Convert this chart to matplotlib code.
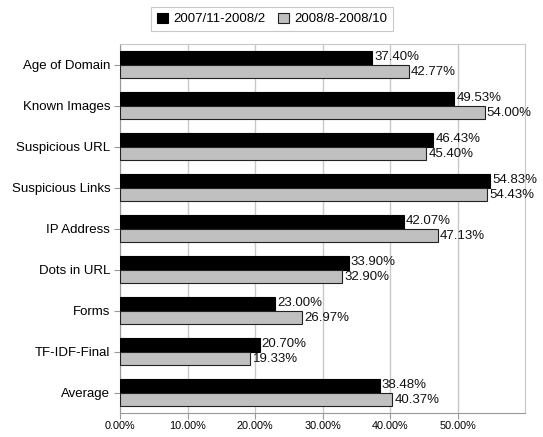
import matplotlib
matplotlib.use("Agg")
import matplotlib.pyplot as plt
import numpy as np

plt.rcParams['font.family'] = ['Liberation Sans', 'DejaVu Sans']

categories = ["Age of Domain", "Known Images", "Suspicious URL", "Suspicious Links",
              "IP Address", "Dots in URL", "Forms", "TF-IDF-Final", "Average"]
series_names = ["2007/11-2008/2", "2008/8-2008/10"]
period1 = [37.40, 49.53, 46.43, 54.83, 42.07, 33.90, 23.00, 20.70, 38.48]
period2 = [42.77, 54.00, 45.40, 54.43, 47.13, 32.90, 26.97, 19.33, 40.37]
x_ticks = [0, 10, 20, 30, 40, 50]
x_tick_labels = ["0.00%", "10.00%", "20.00%", "30.00%", "40.00%", "50.00%"]

fig = plt.figure(figsize=(5.43, 4.37), dpi=100)
ax = fig.add_axes([120/543, 24/437, 405/543, 369/437])

y = np.arange(len(categories))
h = 0.34
grid_c = "#c8c8c8"
axis_c = "#999999"

b1 = ax.barh(y - h/2, period1, height=h, color="black", edgecolor="black",
             linewidth=0.8, label=series_names[0], zorder=3)
b2 = ax.barh(y + h/2, period2, height=h, color="#c0c0c0", edgecolor="#222222",
             linewidth=0.8, label=series_names[1], zorder=3)

for yi, v in zip(y - h/2, period1):
    ax.text(v + 0.3, yi - 0.02, f"{v:.2f}%", va="center", ha="left",
            fontsize=9.5, color="#111111", zorder=4)
for yi, v in zip(y + h/2, period2):
    ax.text(v + 0.3, yi + 0.02, f"{v:.2f}%", va="center", ha="left",
            fontsize=9.5, color="#111111", zorder=4)

ax.set_xlim(0, 60)
ax.set_ylim(len(categories) - 0.5, -0.5)
ax.set_yticks(y)
ax.set_yticklabels(categories, fontsize=9.5)
ax.set_xticks(x_ticks)
ax.set_xticklabels(x_tick_labels, fontsize=7.8)
ax.xaxis.grid(True, color=grid_c, linewidth=1.0, zorder=0)
ax.set_axisbelow(True)

for side in ["top", "right"]:
    ax.spines[side].set_color(grid_c)
for side in ["left", "bottom"]:
    ax.spines[side].set_color(axis_c)
ax.tick_params(axis="y", length=4, color=axis_c, pad=3)
ax.tick_params(axis="x", length=4, color=axis_c, pad=2)

leg = fig.legend(handles=[b1, b2], loc="center", bbox_to_anchor=(272/543, 1 - 19/437),
                 ncol=2, fontsize=9.5, frameon=True, fancybox=False, edgecolor="#bbbbbb",
                 handlelength=0.8, handleheight=0.8, handletextpad=0.4,
                 columnspacing=1.0, borderpad=0.45)
leg.get_frame().set_linewidth(0.8)

fig.savefig("out.png", dpi=100)
